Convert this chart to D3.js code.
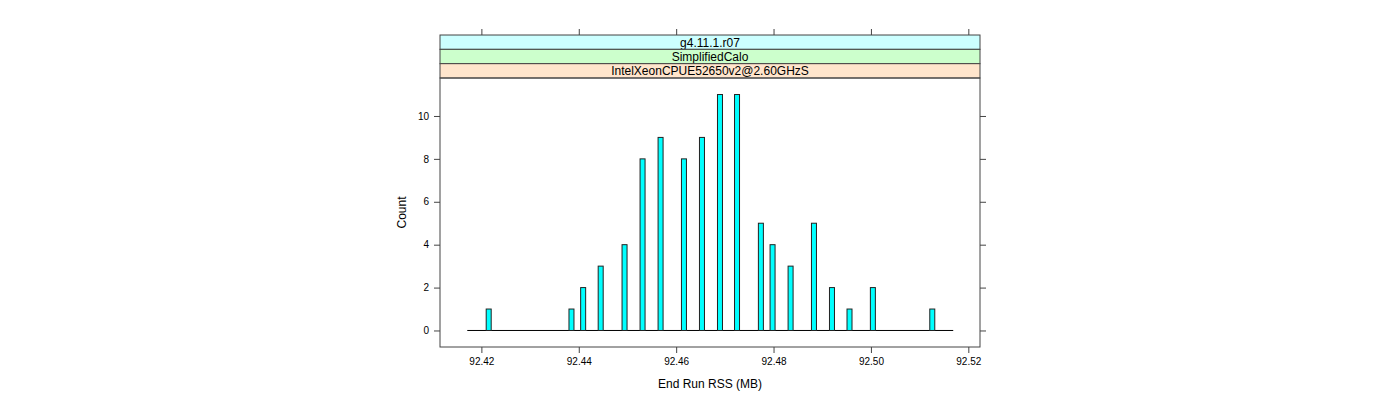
<!DOCTYPE html>
<html>
<head>
<meta charset="utf-8">
<script src="https://cdn.jsdelivr.net/npm/d3@7"></script>
<style>
  body { margin: 0; background: #fff; }
  text { font-family: "Liberation Sans", Arial, sans-serif; }
</style>
</head>
<body>
<div id="chart"></div>
<script>
// data
const rssValues = [92.4215, 92.4385, 92.4409, 92.4445, 92.4494, 92.4531, 92.4568, 92.4616, 92.4653, 92.4690,
                   92.4725, 92.4774, 92.4798, 92.4835, 92.4883, 92.4920, 92.4956, 92.5004, 92.5126];
const counts = [1, 1, 2, 3, 4, 8, 9, 8, 9, 11, 11, 5, 4, 3, 5, 2, 1, 2, 1];
const xTicks = [92.42, 92.44, 92.46, 92.48, 92.50, 92.52];
const yTicks = [0, 2, 4, 6, 8, 10];
const stripLabels = ["g4.11.1.r07", "SimplifiedCalo", "IntelXeonCPUE52650v2@2.60GHzS"];
const stripColors = ["#ccffff", "#ccffcc", "#ffe5cc"];
const baselineRange = [92.4171, 92.5169];
const xDomain = [92.4115, 92.5224];
const yDomain = [-0.77, 11.77];

function drawChart() {
    const W = 1400, H = 400;
    // panel box
    const left = 440, right = 980, top = 78, bottom = 347;
    const stripH = 14.33;
    const stripTop = top - stripH * stripLabels.length;
    const tickLen = 6;
    const axisCol = "#444";

    const svg = d3.select("#chart")
        .append("svg")
        .attr("width", W)
        .attr("height", H);

    const x = d3.scaleLinear().domain(xDomain).range([left, right]);
    const y = d3.scaleLinear().domain(yDomain).range([bottom, top]);

    // strips (outermost level on top)
    stripLabels.forEach(function(lab, i) {
        const sy = stripTop + i * stripH;
        svg.append("rect")
            .attr("x", left).attr("y", sy)
            .attr("width", right - left).attr("height", stripH)
            .attr("fill", stripColors[i])
            .attr("stroke", axisCol).attr("stroke-width", 1);
        svg.append("text")
            .attr("x", (left + right) / 2)
            .attr("y", sy + stripH - 2.8)
            .attr("text-anchor", "middle")
            .attr("font-size", 12)
            .text(lab);
    });

    // panel border
    svg.append("rect")
        .attr("x", left).attr("y", top)
        .attr("width", right - left).attr("height", bottom - top)
        .attr("fill", "none")
        .attr("stroke", axisCol).attr("stroke-width", 1);

    // bottom axis
    const xAxis = svg.append("g")
        .attr("transform", "translate(0," + bottom + ")")
        .call(d3.axisBottom(x).tickValues(xTicks).tickSize(tickLen).tickPadding(5)
            .tickFormat(d3.format(".2f")));
    // top ticks above strips
    const xTop = svg.append("g")
        .attr("transform", "translate(0," + stripTop + ")")
        .call(d3.axisTop(x).tickValues(xTicks).tickSize(tickLen).tickFormat(""));
    // left axis
    const yAxis = svg.append("g")
        .attr("transform", "translate(" + left + ",0)")
        .call(d3.axisLeft(y).tickValues(yTicks).tickSize(tickLen).tickPadding(5));
    // right ticks
    const yRight = svg.append("g")
        .attr("transform", "translate(" + right + ",0)")
        .call(d3.axisRight(y).tickValues(yTicks).tickSize(tickLen).tickFormat(""));

    [xAxis, xTop, yAxis, yRight].forEach(function(g) {
        g.select(".domain").remove();
        g.selectAll(".tick line").attr("stroke", axisCol);
        g.selectAll(".tick text")
            .attr("fill", "#000")
            .attr("font-size", 10)
            .attr("font-family", "'Liberation Sans', Arial, sans-serif");
    });

    // baseline
    svg.append("line")
        .attr("x1", x(baselineRange[0])).attr("x2", x(baselineRange[1]))
        .attr("y1", y(0)).attr("y2", y(0))
        .attr("stroke", "#000").attr("stroke-width", 1);

    // bars
    const barW = 5;
    svg.append("g")
        .selectAll("rect")
        .data(rssValues)
        .enter()
        .append("rect")
        .attr("x", function(d) { return x(d) - barW / 2; })
        .attr("y", function(d, i) { return y(counts[i]); })
        .attr("width", barW)
        .attr("height", function(d, i) { return y(0) - y(counts[i]); })
        .attr("fill", "#00ffff")
        .attr("stroke", "#222")
        .attr("stroke-width", 1);

    // axis titles
    svg.append("text")
        .attr("x", (left + right) / 2)
        .attr("y", 388)
        .attr("text-anchor", "middle")
        .attr("font-size", 12)
        .text("End Run RSS (MB)");

    svg.append("text")
        .attr("transform", "translate(406," + ((top + bottom) / 2) + ") rotate(-90)")
        .attr("text-anchor", "middle")
        .attr("font-size", 12)
        .text("Count");
}

drawChart();
</script>
</body>
</html>
